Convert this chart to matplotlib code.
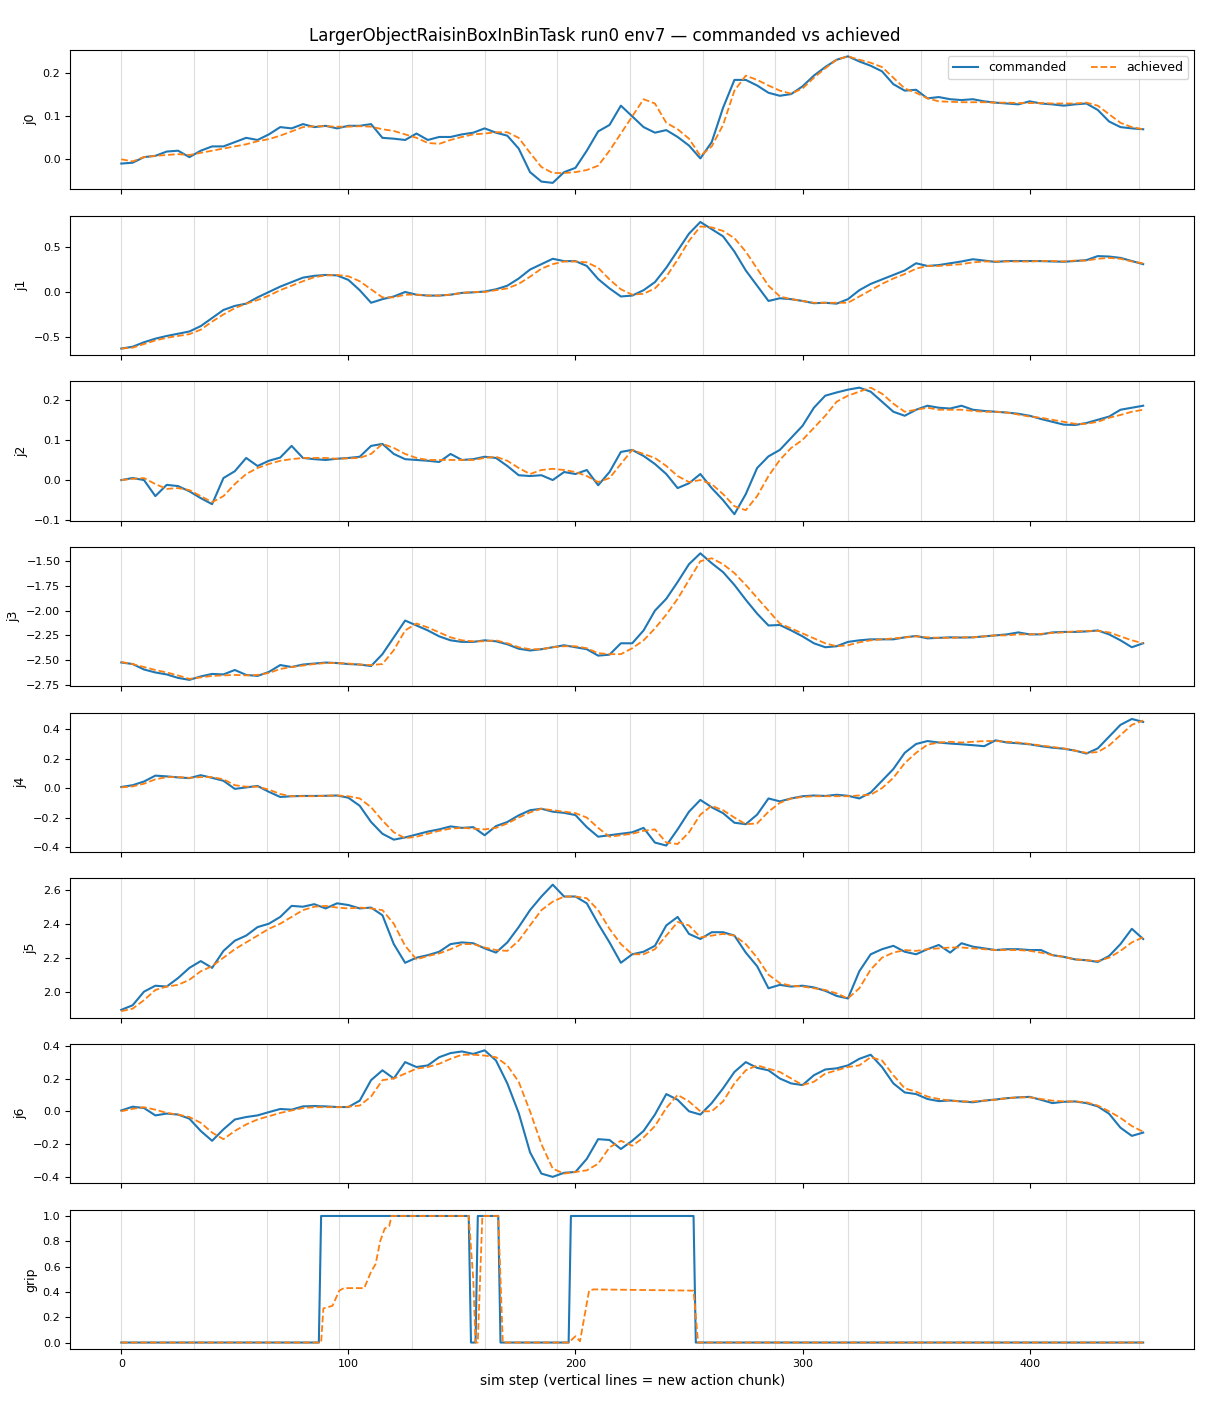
#%%
import numpy as np
import matplotlib
matplotlib.use("Agg")
import matplotlib.pyplot as plt

#%%
# sampled every 5 sim steps, read off the reference
steps = np.arange(0, 451, 5)
chunk_starts = np.arange(0, 449, 32)

j0_cmd = [-0.010, -0.008, 0.005, 0.008, 0.018, 0.020, 0.005, 0.020, 0.030, 0.030,
          0.040, 0.050, 0.045, 0.058, 0.075, 0.072, 0.082, 0.075, 0.078, 0.072,
          0.078, 0.078, 0.082, 0.050, 0.048, 0.045, 0.060, 0.045, 0.052, 0.052,
          0.058, 0.062, 0.072, 0.062, 0.055, 0.025, -0.030, -0.052, -0.055, -0.030,
          -0.020, 0.020, 0.065, 0.080, 0.125, 0.100, 0.075, 0.062, 0.068, 0.052,
          0.032, 0.002, 0.040, 0.120, 0.185, 0.185, 0.172, 0.155, 0.148, 0.152,
          0.170, 0.195, 0.215, 0.232, 0.240, 0.228, 0.218, 0.205, 0.175, 0.160,
          0.162, 0.142, 0.145, 0.140, 0.138, 0.140, 0.135, 0.132, 0.130, 0.128,
          0.135, 0.130, 0.128, 0.125, 0.128, 0.130, 0.115, 0.088, 0.075, 0.072,
          0.070]
j0_ach = [0.000, -0.005, 0.005, 0.008, 0.010, 0.012, 0.010, 0.015, 0.020, 0.025,
          0.030, 0.035, 0.042, 0.047, 0.055, 0.065, 0.075, 0.077, 0.077, 0.076,
          0.076, 0.077, 0.076, 0.070, 0.066, 0.058, 0.050, 0.038, 0.036, 0.045,
          0.052, 0.058, 0.060, 0.063, 0.063, 0.050, 0.015, -0.018, -0.032, -0.032,
          -0.030, -0.025, -0.015, 0.020, 0.060, 0.100, 0.140, 0.130, 0.085, 0.070,
          0.048, 0.008, 0.030, 0.080, 0.160, 0.195, 0.185, 0.172, 0.160, 0.153,
          0.165, 0.190, 0.212, 0.232, 0.240, 0.232, 0.225, 0.215, 0.190, 0.165,
          0.155, 0.142, 0.135, 0.134, 0.133, 0.133, 0.133, 0.132, 0.132, 0.131,
          0.131, 0.131, 0.130, 0.130, 0.130, 0.132, 0.125, 0.105, 0.085, 0.075,
          0.070]

j1_cmd = [-0.63, -0.61, -0.56, -0.52, -0.49, -0.465, -0.44, -0.38, -0.29, -0.20,
          -0.155, -0.13, -0.06, 0.00, 0.06, 0.11, 0.16, 0.18, 0.19, 0.185,
          0.135, 0.02, -0.12, -0.08, -0.05, 0.00, -0.03, -0.04, -0.04, -0.03,
          -0.01, -0.004, 0.005, 0.03, 0.07, 0.15, 0.25, 0.31, 0.37, 0.344,
          0.344, 0.29, 0.144, 0.04, -0.05, -0.04, 0.02, 0.11, 0.27, 0.46,
          0.65, 0.78, 0.70, 0.62, 0.45, 0.24, 0.07, -0.10, -0.07, -0.08,
          -0.10, -0.125, -0.12, -0.13, -0.08, 0.02, 0.09, 0.14, 0.19, 0.24,
          0.32, 0.29, 0.30, 0.32, 0.34, 0.365, 0.35, 0.335, 0.345, 0.345,
          0.345, 0.344, 0.34, 0.337, 0.345, 0.355, 0.40, 0.395, 0.38, 0.345,
          0.31]
j1_ach = [-0.63, -0.62, -0.58, -0.54, -0.51, -0.49, -0.47, -0.42, -0.33, -0.25,
          -0.18, -0.13, -0.09, -0.04, 0.02, 0.07, 0.12, 0.165, 0.185, 0.19,
          0.175, 0.12, 0.03, -0.06, -0.06, -0.03, -0.03, -0.04, -0.04, -0.03,
          -0.01, 0.00, 0.00, 0.02, 0.04, 0.09, 0.17, 0.26, 0.31, 0.34,
          0.34, 0.33, 0.27, 0.14, 0.03, -0.03, -0.02, 0.04, 0.17, 0.36,
          0.57, 0.73, 0.72, 0.68, 0.60, 0.45, 0.26, 0.07, -0.05, -0.08,
          -0.10, -0.12, -0.12, -0.12, -0.12, -0.05, 0.02, 0.09, 0.15, 0.20,
          0.26, 0.29, 0.29, 0.30, 0.31, 0.33, 0.34, 0.34, 0.34, 0.34,
          0.34, 0.345, 0.345, 0.34, 0.35, 0.35, 0.37, 0.38, 0.37, 0.34,
          0.32]

j2_cmd = [0.000, 0.005, 0.000, -0.040, -0.012, -0.015, -0.028, -0.045, -0.060, 0.005,
          0.022, 0.055, 0.035, 0.048, 0.056, 0.085, 0.055, 0.052, 0.050, 0.053,
          0.055, 0.058, 0.085, 0.090, 0.065, 0.052, 0.050, 0.048, 0.045, 0.065,
          0.050, 0.052, 0.058, 0.055, 0.035, 0.012, 0.010, 0.012, 0.000, 0.020,
          0.015, 0.025, -0.013, 0.020, 0.070, 0.075, 0.060, 0.040, 0.015, -0.020,
          -0.008, 0.015, -0.020, -0.050, -0.085, -0.035, 0.030, 0.059, 0.075, 0.105,
          0.135, 0.180, 0.210, 0.218, 0.225, 0.230, 0.220, 0.195, 0.170, 0.160,
          0.175, 0.185, 0.180, 0.178, 0.185, 0.175, 0.172, 0.170, 0.168, 0.165,
          0.160, 0.152, 0.145, 0.138, 0.137, 0.142, 0.150, 0.158, 0.175, 0.180,
          0.185]
j2_ach = [0.000, 0.003, 0.005, -0.010, -0.022, -0.020, -0.025, -0.040, -0.055, -0.040,
          -0.010, 0.015, 0.030, 0.040, 0.048, 0.052, 0.055, 0.055, 0.055, 0.053,
          0.054, 0.055, 0.065, 0.090, 0.080, 0.065, 0.055, 0.050, 0.050, 0.050,
          0.050, 0.050, 0.055, 0.058, 0.048, 0.030, 0.015, 0.025, 0.028, 0.025,
          0.020, 0.010, -0.005, 0.005, 0.040, 0.075, 0.065, 0.055, 0.035, 0.010,
          -0.005, 0.000, -0.010, -0.035, -0.065, -0.075, -0.040, 0.010, 0.050, 0.080,
          0.100, 0.130, 0.160, 0.195, 0.210, 0.220, 0.230, 0.215, 0.190, 0.170,
          0.175, 0.180, 0.175, 0.175, 0.175, 0.172, 0.170, 0.170, 0.168, 0.163,
          0.158, 0.155, 0.150, 0.145, 0.140, 0.140, 0.145, 0.155, 0.162, 0.170,
          0.175]

j3_cmd = [-2.524, -2.540, -2.595, -2.625, -2.645, -2.680, -2.700, -2.665, -2.640, -2.645,
          -2.600, -2.650, -2.660, -2.620, -2.550, -2.570, -2.545, -2.535, -2.525, -2.530,
          -2.540, -2.545, -2.560, -2.440, -2.270, -2.100, -2.150, -2.200, -2.260, -2.300,
          -2.316, -2.316, -2.300, -2.310, -2.340, -2.385, -2.403, -2.390, -2.370, -2.350,
          -2.370, -2.390, -2.455, -2.445, -2.330, -2.330, -2.200, -2.000, -1.880, -1.710,
          -1.530, -1.420, -1.520, -1.610, -1.740, -1.890, -2.030, -2.150, -2.145, -2.200,
          -2.260, -2.330, -2.370, -2.360, -2.316, -2.300, -2.290, -2.290, -2.290, -2.270,
          -2.256, -2.280, -2.275, -2.270, -2.272, -2.270, -2.260, -2.250, -2.240, -2.220,
          -2.240, -2.240, -2.220, -2.215, -2.215, -2.210, -2.200, -2.240, -2.300, -2.370,
          -2.330]
j3_ach = [-2.52, -2.54, -2.57, -2.60, -2.625, -2.655, -2.69, -2.675, -2.66, -2.655,
          -2.65, -2.655, -2.65, -2.63, -2.59, -2.57, -2.555, -2.54, -2.53, -2.53,
          -2.535, -2.545, -2.55, -2.54, -2.40, -2.20, -2.13, -2.17, -2.22, -2.27,
          -2.30, -2.31, -2.31, -2.30, -2.33, -2.37, -2.39, -2.39, -2.37, -2.36,
          -2.36, -2.38, -2.43, -2.44, -2.44, -2.38, -2.30, -2.18, -2.04, -1.88,
          -1.69, -1.50, -1.47, -1.53, -1.62, -1.74, -1.87, -2.00, -2.13, -2.18,
          -2.23, -2.28, -2.33, -2.36, -2.35, -2.32, -2.30, -2.29, -2.28, -2.27,
          -2.26, -2.27, -2.275, -2.275, -2.27, -2.27, -2.26, -2.25, -2.25, -2.24,
          -2.24, -2.235, -2.225, -2.22, -2.21, -2.205, -2.205, -2.22, -2.26, -2.30,
          -2.33]

j4_cmd = [0.008, 0.020, 0.045, 0.085, 0.080, 0.073, 0.068, 0.088, 0.070, 0.050,
          -0.005, 0.005, 0.015, -0.025, -0.060, -0.055, -0.053, -0.053, -0.052, -0.050,
          -0.065, -0.120, -0.230, -0.310, -0.350, -0.335, -0.315, -0.295, -0.280, -0.260,
          -0.270, -0.265, -0.320, -0.258, -0.230, -0.185, -0.150, -0.140, -0.160, -0.168,
          -0.183, -0.265, -0.330, -0.320, -0.310, -0.300, -0.270, -0.370, -0.390, -0.280,
          -0.160, -0.080, -0.130, -0.170, -0.235, -0.245, -0.180, -0.070, -0.090, -0.070,
          -0.055, -0.050, -0.053, -0.045, -0.052, -0.070, -0.030, 0.050, 0.130, 0.240,
          0.300, 0.320, 0.310, 0.303, 0.298, 0.292, 0.285, 0.325, 0.310, 0.305,
          0.298, 0.285, 0.275, 0.268, 0.255, 0.235, 0.270, 0.350, 0.430, 0.470,
          0.450]
j4_ach = [0.005, 0.012, 0.030, 0.060, 0.075, 0.075, 0.070, 0.075, 0.075, 0.060,
          0.020, 0.010, 0.010, -0.010, -0.040, -0.055, -0.055, -0.055, -0.052, -0.050,
          -0.055, -0.070, -0.130, -0.220, -0.300, -0.340, -0.330, -0.310, -0.290, -0.275,
          -0.270, -0.275, -0.280, -0.270, -0.240, -0.200, -0.165, -0.140, -0.150, -0.160,
          -0.170, -0.200, -0.270, -0.330, -0.320, -0.310, -0.290, -0.280, -0.370, -0.380,
          -0.300, -0.180, -0.120, -0.150, -0.200, -0.245, -0.240, -0.160, -0.100, -0.070,
          -0.060, -0.055, -0.055, -0.055, -0.055, -0.050, -0.045, 0.000, 0.070, 0.170,
          0.240, 0.295, 0.310, 0.315, 0.310, 0.315, 0.320, 0.320, 0.315, 0.310,
          0.300, 0.290, 0.280, 0.270, 0.255, 0.240, 0.245, 0.290, 0.360, 0.430,
          0.460]

j5_cmd = [1.893, 1.920, 2.000, 2.035, 2.030, 2.080, 2.140, 2.180, 2.140, 2.240,
          2.300, 2.330, 2.380, 2.400, 2.440, 2.505, 2.500, 2.515, 2.490, 2.520,
          2.510, 2.490, 2.495, 2.450, 2.280, 2.170, 2.200, 2.215, 2.235, 2.280,
          2.290, 2.285, 2.255, 2.230, 2.290, 2.380, 2.480, 2.560, 2.630, 2.560,
          2.560, 2.520, 2.400, 2.290, 2.170, 2.220, 2.235, 2.270, 2.390, 2.440,
          2.340, 2.310, 2.350, 2.350, 2.330, 2.230, 2.150, 2.020, 2.040, 2.030,
          2.035, 2.025, 2.005, 1.975, 1.960, 2.120, 2.220, 2.250, 2.270, 2.235,
          2.220, 2.250, 2.275, 2.230, 2.285, 2.265, 2.255, 2.245, 2.250, 2.250,
          2.245, 2.245, 2.215, 2.205, 2.190, 2.185, 2.175, 2.210, 2.280, 2.370,
          2.310]
j5_ach = [1.885, 1.900, 1.950, 2.010, 2.030, 2.040, 2.070, 2.120, 2.150, 2.200,
          2.250, 2.290, 2.330, 2.370, 2.400, 2.440, 2.480, 2.500, 2.505, 2.495,
          2.490, 2.495, 2.490, 2.480, 2.400, 2.270, 2.190, 2.210, 2.225, 2.250,
          2.280, 2.280, 2.260, 2.245, 2.240, 2.300, 2.390, 2.480, 2.530, 2.560,
          2.560, 2.550, 2.480, 2.370, 2.280, 2.220, 2.220, 2.250, 2.330, 2.410,
          2.390, 2.320, 2.330, 2.340, 2.330, 2.280, 2.200, 2.100, 2.050, 2.035,
          2.030, 2.020, 2.010, 1.990, 1.960, 2.020, 2.130, 2.200, 2.230, 2.245,
          2.240, 2.250, 2.255, 2.260, 2.260, 2.255, 2.250, 2.245, 2.245, 2.245,
          2.240, 2.230, 2.215, 2.205, 2.190, 2.185, 2.180, 2.200, 2.240, 2.290,
          2.320]

j6_cmd = [0.005, 0.028, 0.020, -0.025, -0.014, -0.020, -0.045, -0.120, -0.180, -0.110,
          -0.050, -0.035, -0.025, -0.005, 0.014, 0.010, 0.030, 0.032, 0.030, 0.026,
          0.026, 0.065, 0.190, 0.250, 0.200, 0.300, 0.270, 0.280, 0.330, 0.355,
          0.365, 0.350, 0.372, 0.310, 0.170, -0.010, -0.250, -0.380, -0.400, -0.375,
          -0.370, -0.290, -0.170, -0.175, -0.230, -0.180, -0.120, -0.020, 0.105, 0.070,
          0.000, -0.020, 0.050, 0.140, 0.240, 0.300, 0.265, 0.250, 0.200, 0.170,
          0.160, 0.220, 0.255, 0.262, 0.280, 0.320, 0.345, 0.270, 0.170, 0.115,
          0.105, 0.075, 0.062, 0.066, 0.060, 0.055, 0.065, 0.072, 0.080, 0.085,
          0.088, 0.070, 0.050, 0.058, 0.060, 0.050, 0.030, -0.015, -0.100, -0.150,
          -0.130]
j6_ach = [0.000, 0.015, 0.025, 0.010, -0.010, -0.020, -0.035, -0.070, -0.130, -0.170,
          -0.120, -0.080, -0.050, -0.030, -0.010, 0.005, 0.020, 0.025, 0.025, 0.025,
          0.028, 0.035, 0.090, 0.190, 0.200, 0.230, 0.260, 0.270, 0.290, 0.320,
          0.345, 0.345, 0.340, 0.330, 0.280, 0.180, 0.000, -0.200, -0.350, -0.380,
          -0.370, -0.360, -0.320, -0.220, -0.180, -0.210, -0.160, -0.090, 0.020, 0.100,
          0.060, 0.000, 0.000, 0.060, 0.170, 0.250, 0.280, 0.260, 0.240, 0.200,
          0.160, 0.180, 0.230, 0.250, 0.270, 0.280, 0.330, 0.310, 0.220, 0.140,
          0.120, 0.090, 0.075, 0.065, 0.060, 0.060, 0.065, 0.070, 0.080, 0.085,
          0.085, 0.075, 0.065, 0.060, 0.060, 0.055, 0.035, 0.000, -0.040, -0.090,
          -0.125]

# gripper is step-like, so keep its breakpoints
grip_cmd_x = [0, 87, 88, 153, 154, 156, 157, 166, 167, 197, 198, 252, 253, 450]
grip_cmd_y = [0, 0, 1, 1, 0, 0, 1, 1, 0, 0, 1, 1, 0, 0]
grip_ach_x = [0, 88, 89, 93, 96, 98, 107, 110, 112, 114, 116, 118, 119, 153, 155,
              156, 157, 159, 166, 168, 197, 200, 202, 206, 208, 252, 254, 450]
grip_ach_y = [0, 0, 0.27, 0.29, 0.41, 0.43, 0.43, 0.56, 0.62, 0.80, 0.90, 0.92, 1.0, 1.0, 0.5,
              0.0, 0.0, 1.0, 1.0, 0.0, 0.0, 0.05, 0.01, 0.41, 0.42, 0.41, 0.0, 0.0]

joints = ["j0", "j1", "j2", "j3", "j4", "j5", "j6"]
cmd = [j0_cmd, j1_cmd, j2_cmd, j3_cmd, j4_cmd, j5_cmd, j6_cmd]
ach = [j0_ach, j1_ach, j2_ach, j3_ach, j4_ach, j5_ach, j6_ach]

#%%
fig, axes = plt.subplots(8, 1, figsize=(12.1, 14.08), dpi=100, sharex=True)
plt.subplots_adjust(left=0.058, right=0.987, top=0.9645, bottom=0.042, hspace=0.19)

for ax, name, c, a in zip(axes[:7], joints, cmd, ach):
    for s in chunk_starts:
        ax.axvline(s, color="#dddddd", lw=0.8, zorder=0)
    ax.plot(steps, c, color="C0", lw=1.5, label="commanded")
    ax.plot(steps, a, color="C1", lw=1.3, ls="--", label="achieved")
    ax.set_ylabel(name, fontsize=9)
    ax.tick_params(labelsize=8)

ax = axes[7]
for s in chunk_starts:
    ax.axvline(s, color="#dddddd", lw=0.8, zorder=0)
ax.plot(grip_cmd_x, grip_cmd_y, color="C0", lw=1.5)
ax.plot(grip_ach_x, grip_ach_y, color="C1", lw=1.3, ls="--")
ax.set_ylabel("grip", fontsize=9)
ax.tick_params(labelsize=8)
ax.set_xlabel("sim step (vertical lines = new action chunk)", fontsize=10)

axes[0].legend(loc="upper right", ncol=2, fontsize=9)
fig.suptitle("LargerObjectRaisinBoxInBinTask run0 env7 \u2014 commanded vs achieved",
             fontsize=12, y=0.9745, va="center")

plt.savefig("out.png", dpi=100)
plt.close()
